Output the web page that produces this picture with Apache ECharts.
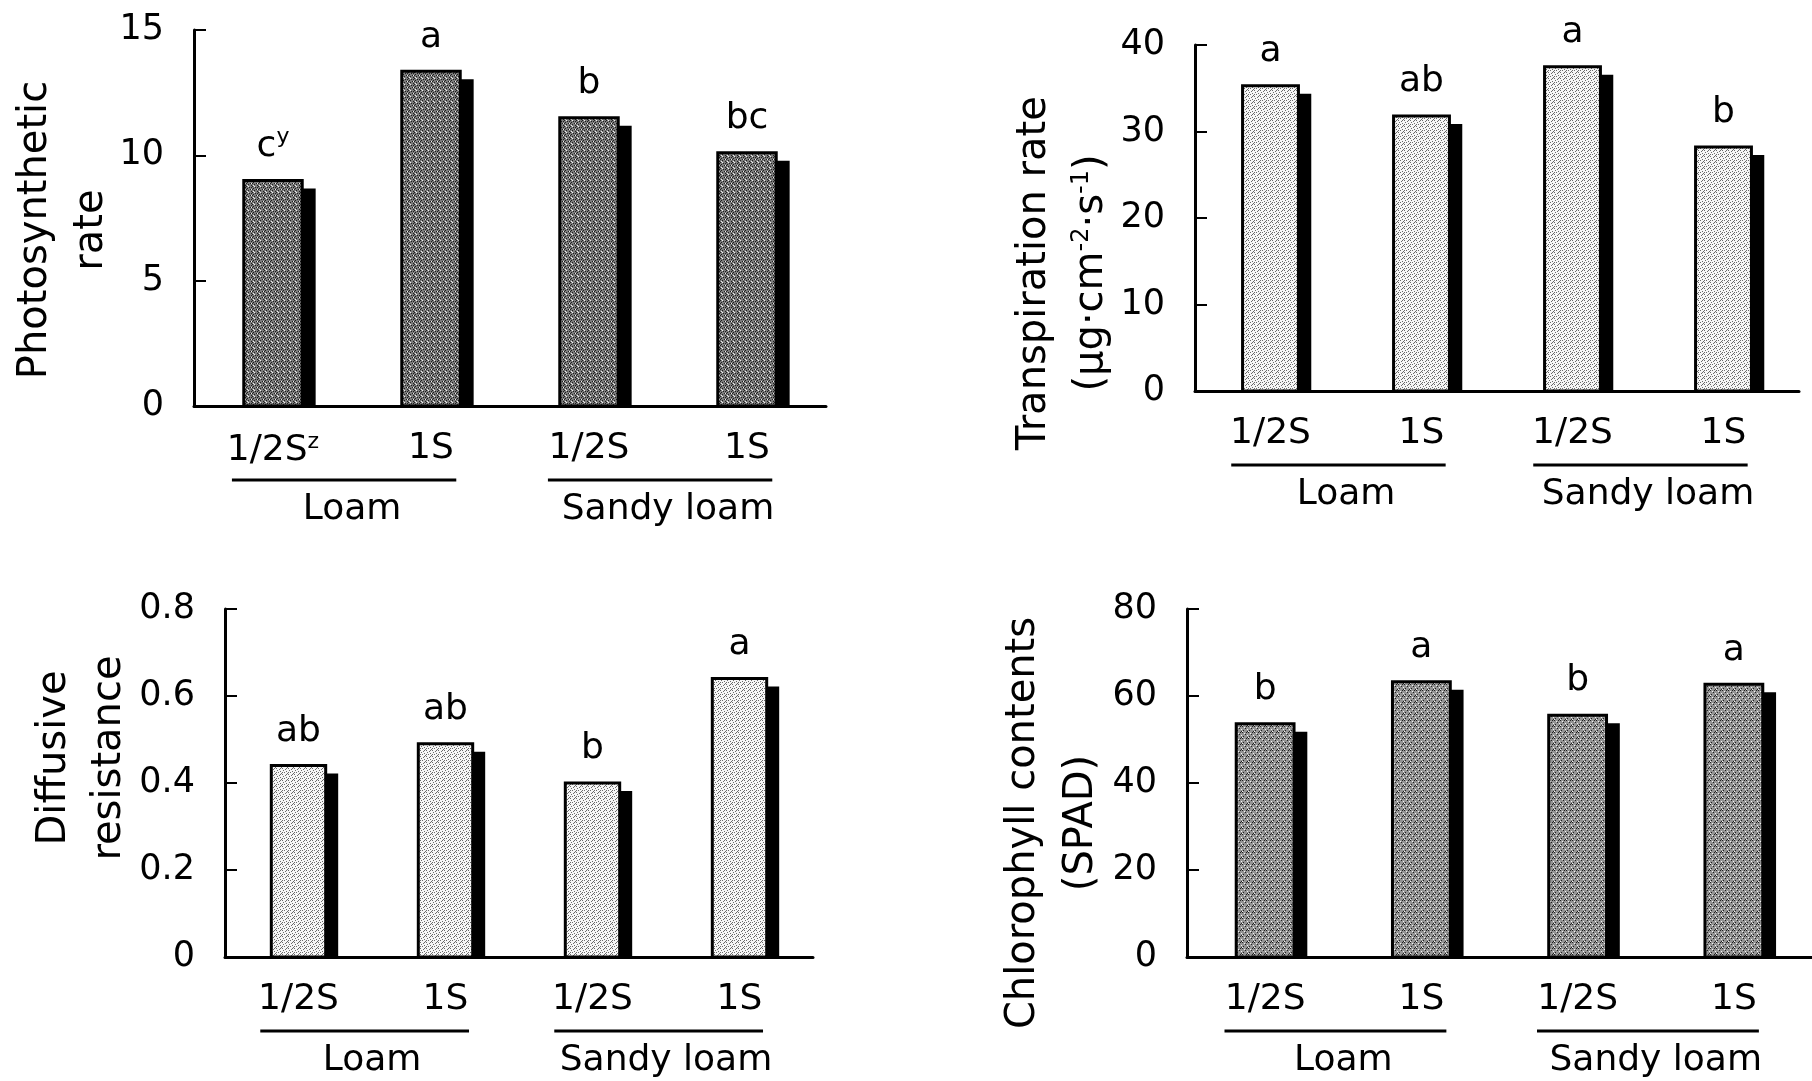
<!DOCTYPE html>
<html>
<head>
<meta charset="utf-8">
<script src="https://cdn.jsdelivr.net/npm/echarts@6/dist/echarts.min.js"></script>
<style>
html, body { margin: 0; background: #fff; }
#chart { width: 1812px; height: 1081px; }
</style>
</head>
<body>
<div id="chart"></div>
<script>
// categories
var treatments = ['1/2S', '1S', '1/2S', '1S'];
var soils = ['Loam', 'Sandy loam'];

// photosynthetic rate
var photoRate = [9.0, 13.35, 11.5, 10.1];
var photoLetters = ['c', 'a', 'b', 'bc'];
var photoTicks = [0, 5, 10, 15];

// transpiration rate
var transRate = [35.3, 31.8, 37.5, 28.2];
var transLetters = ['a', 'ab', 'a', 'b'];
var transTicks = [0, 10, 20, 30, 40];

// diffusive resistance
var diffRes = [0.44, 0.49, 0.40, 0.64];
var diffLetters = ['ab', 'ab', 'b', 'a'];
var diffTicks = [0, 0.2, 0.4, 0.6, 0.8];

// chlorophyll contents
var chloro = [53.6, 63.3, 55.6, 62.7];
var chloroLetters = ['b', 'a', 'b', 'a'];
var chloroTicks = [0, 20, 40, 60, 80];

var FONT = '"DejaVu Sans", Verdana, sans-serif';

// stippled fills like the printed figure
function makeTexture(bg, dark, darkMarks, light, lightMarks) {
  var c = document.createElement('canvas');
  c.width = 6; c.height = 6;
  var g = c.getContext('2d');
  g.fillStyle = bg; g.fillRect(0, 0, 6, 6);
  g.fillStyle = dark;
  darkMarks.forEach(function (m) { g.fillRect(m[0], m[1], 1, 1); });
  g.fillStyle = light;
  lightMarks.forEach(function (m) { g.fillRect(m[0], m[1], 1, 1); });
  return { image: c, repeat: 'repeat' };
}
var darkFill = makeTexture('#7c7c7c', '#1e1e1e',
  [[0, 0], [3, 1], [1, 2], [4, 3], [2, 4], [5, 5], [0, 3], [5, 1]],
  '#f0f0f0', [[2, 0], [5, 3], [1, 5]]);
var lightFill = makeTexture('#f6f6f6', '#6a6a6a',
  [[0, 0], [3, 1], [1, 2], [4, 3], [2, 4], [5, 5], [0, 4], [4, 0]],
  '#ffffff', []);
var midFill = makeTexture('#949494', '#202020',
  [[0, 0], [3, 2], [1, 4], [5, 5], [4, 0]],
  '#f4f4f4', [[2, 1], [5, 3], [0, 5]]);

var panels = [
  { values: photoRate, letters: photoLetters, ticks: photoTicks, fill: darkFill, note: true,
    title: 'Photosynthetic\nrate', tx: 64, ty: 230, lh: 56,
    grid: { left: 194, top: 30, width: 632, height: 376 } },
  { values: transRate, letters: transLetters, ticks: transTicks, fill: lightFill, note: false,
    title: 'Transpiration rate\n(μg·cm{sup|-2}·s{sup|-1})', tx: 1063, ty: 273, lh: 57,
    grid: { left: 1195, top: 45, width: 604, height: 346 } },
  { values: diffRes, letters: diffLetters, ticks: diffTicks, fill: lightFill, note: false,
    title: 'Diffusive\nresistance', tx: 82, ty: 758, lh: 55,
    grid: { left: 225, top: 609, width: 588, height: 348 } },
  { values: chloro, letters: chloroLetters, ticks: chloroTicks, fill: midFill, note: false,
    title: 'Chlorophyll contents\n(SPAD)', tx: 1053, ty: 823, lh: 58,
    grid: { left: 1187, top: 609, width: 626, height: 348 } }
];

var supRich = { sup: { fontSize: 22, fontFamily: FONT, color: '#000', padding: [0, 0, 18, 0] } };

function renderBar(panel) {
  return function (params, api) {
    var idx = api.value(0);
    var top = api.coord([idx, api.value(1)]);
    var base = api.coord([idx, 0]);
    var w = api.size([1, 0])[0];
    var bw = w * 0.37;
    var dx = w * 0.085, dy = 8;
    var x = top[0] - bw / 2;
    var h = base[1] - top[1];
    var txt = panel.letters[idx] + (panel.note && idx === 0 ? '{sup|y}' : '');
    return {
      type: 'group',
      children: [
        { type: 'rect', shape: { x: x + dx, y: top[1] + dy, width: bw, height: h - dy },
          style: { fill: '#000' } },
        { type: 'rect', shape: { x: x, y: top[1], width: bw, height: h },
          style: { fill: panel.fill, stroke: '#000', lineWidth: 3 } },
        { type: 'text', x: top[0], y: top[1] - 34,
          style: { text: txt, fill: '#000', font: '36px ' + FONT, align: 'center',
                   verticalAlign: 'middle', rich: supRich } }
      ]
    };
  };
}

var chart = echarts.init(document.getElementById('chart'));

var option = { backgroundColor: '#fff', animation: false, grid: [], xAxis: [], yAxis: [], series: [], graphic: [] };

panels.forEach(function (p, k) {
  option.grid.push(p.grid);
  option.xAxis.push({
    gridIndex: k, type: 'category', data: treatments,
    axisLine: { lineStyle: { color: '#000', width: 3 } },
    axisTick: { inside: true, length: 12, lineStyle: { color: '#000', width: 2 } },
    axisLabel: {
      interval: 0, margin: 25, fontSize: 36, fontFamily: FONT, color: '#000', rich: supRich,
      formatter: function (v, i) { return p.note && i === 0 ? v + '{sup|z}' : v; }
    }
  });
  option.xAxis.push({
    gridIndex: k, type: 'category', data: soils, position: 'bottom', offset: 80,
    axisLine: { show: false }, axisTick: { show: false },
    axisLabel: { interval: 0, margin: 6, fontSize: 36, fontFamily: FONT, color: '#000' }
  });
  option.yAxis.push({
    gridIndex: k, type: 'value',
    min: p.ticks[0], max: p.ticks[p.ticks.length - 1], interval: p.ticks[1] - p.ticks[0],
    axisLine: { show: true, lineStyle: { color: '#000', width: 3 } },
    axisTick: { show: true, inside: true, length: 12, lineStyle: { color: '#000', width: 2 } },
    splitLine: { show: false },
    axisLabel: { margin: 30, fontSize: 35, fontFamily: FONT, color: '#000' }
  });
  option.series.push({
    type: 'custom', xAxisIndex: k * 2, yAxisIndex: k,
    encode: { x: 0, y: 1 },
    data: p.values.map(function (v, i) { return [i, v]; }),
    renderItem: renderBar(p)
  });
  option.graphic.push({
    id: 'title' + k, type: 'text', x: p.tx, y: p.ty, rotation: Math.PI / 2,
    style: { text: p.title, font: '40px ' + FONT, fill: '#000', align: 'center',
             verticalAlign: 'middle', lineHeight: p.lh,
             rich: { sup: { fontSize: 24, fontFamily: FONT, padding: [0, 0, 20, 0] } } }
  });
});

chart.setOption(option);

// underlines below the treatment labels, grouping them by soil
var lines = [];
panels.forEach(function (p, k) {
  var c = [0, 1, 2, 3].map(function (i) { return chart.convertToPixel({ xAxisIndex: k * 2 }, i); });
  var w = c[1] - c[0];
  var y0 = chart.convertToPixel({ yAxisIndex: k }, 0) + 74;
  [[0, 1], [2, 3]].forEach(function (pair, j) {
    lines.push({
      id: 'ul' + k + '_' + j, type: 'line',
      shape: { x1: c[pair[0]] - 0.26 * w, y1: y0, x2: c[pair[1]] + 0.16 * w, y2: y0 },
      style: { stroke: '#000', lineWidth: 3 }
    });
  });
});
chart.setOption({ graphic: lines });
</script>
</body>
</html>
